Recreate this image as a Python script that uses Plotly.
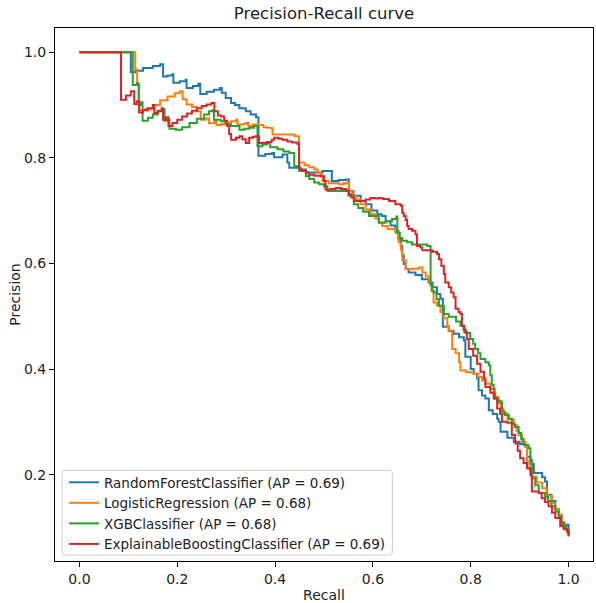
import plotly.graph_objects as go

# Precision-recall curves (recall ascending, precision held until the next recall value)
rf_recall = [0.0, 0.105, 0.115, 0.130, 0.150, 0.165, 0.171, 0.180, 0.190, 0.192, 0.205, 0.217, 0.219,
             0.232, 0.243, 0.247, 0.260, 0.275, 0.287, 0.291, 0.299, 0.310, 0.318, 0.327, 0.340, 0.350,
             0.361, 0.366, 0.380, 0.394, 0.398, 0.415, 0.425, 0.429, 0.452, 0.463, 0.480, 0.497, 0.502,
             0.516, 0.530, 0.544, 0.551, 0.560, 0.575, 0.585, 0.597, 0.609, 0.618, 0.626, 0.636, 0.646,
             0.652, 0.657, 0.660, 0.663, 0.667, 0.673, 0.687, 0.700, 0.714, 0.722, 0.731, 0.738, 0.743,
             0.755, 0.765, 0.776, 0.786, 0.789, 0.800, 0.806, 0.813, 0.816, 0.823, 0.830, 0.837, 0.845,
             0.854, 0.857, 0.861, 0.875, 0.888, 0.900, 0.912, 0.915, 0.922, 0.929, 0.946, 0.952, 0.956,
             0.965, 0.973, 0.980, 0.986, 1.0]
rf_precision = [1.0, 0.962, 0.965, 0.970, 0.974, 0.977, 0.954, 0.956, 0.958, 0.942, 0.945, 0.948, 0.932,
                0.936, 0.940, 0.921, 0.925, 0.929, 0.932, 0.923, 0.913, 0.904, 0.900, 0.894, 0.888, 0.882,
                0.877, 0.804, 0.807, 0.809, 0.801, 0.806, 0.791, 0.781, 0.778, 0.772, 0.772, 0.775, 0.775,
                0.756, 0.758, 0.759, 0.737, 0.728, 0.718, 0.712, 0.700, 0.693, 0.690, 0.680, 0.672, 0.662,
                0.645, 0.633, 0.615, 0.599, 0.590, 0.583, 0.578, 0.570, 0.564, 0.555, 0.542, 0.533, 0.480,
                0.472, 0.467, 0.460, 0.454, 0.423, 0.400, 0.391, 0.382, 0.360, 0.350, 0.344, 0.322, 0.315,
                0.306, 0.300, 0.281, 0.270, 0.262, 0.258, 0.253, 0.234, 0.220, 0.203, 0.195, 0.187, 0.162,
                0.150, 0.135, 0.124, 0.105, 0.085]

lr_recall = [0.0, 0.114, 0.118, 0.122, 0.135, 0.150, 0.165, 0.180, 0.195, 0.205, 0.211, 0.219, 0.230,
             0.240, 0.248, 0.258, 0.262, 0.265, 0.276, 0.280, 0.290, 0.299, 0.310, 0.320, 0.323, 0.335,
             0.340, 0.345, 0.354, 0.365, 0.376, 0.384, 0.394, 0.395, 0.429, 0.440, 0.449, 0.460, 0.470,
             0.480, 0.487, 0.493, 0.497, 0.510, 0.531, 0.540, 0.548, 0.551, 0.558, 0.565, 0.575, 0.585,
             0.595, 0.605, 0.612, 0.619, 0.630, 0.646, 0.653, 0.657, 0.660, 0.667, 0.680, 0.694, 0.701,
             0.708, 0.714, 0.718, 0.720, 0.724, 0.731, 0.738, 0.745, 0.752, 0.755, 0.762, 0.769, 0.776,
             0.779, 0.790, 0.806, 0.815, 0.823, 0.830, 0.840, 0.850, 0.857, 0.862, 0.867, 0.875, 0.888,
             0.894, 0.898, 0.905, 0.912, 0.915, 0.920, 0.925, 0.935, 0.946, 0.955, 0.966, 0.973, 0.980,
             0.986, 0.992, 0.997, 1.0]
lr_precision = [1.0, 0.967, 0.938, 0.890, 0.893, 0.900, 0.909, 0.916, 0.922, 0.926, 0.911, 0.901, 0.896,
                0.888, 0.872, 0.874, 0.875, 0.866, 0.869, 0.862, 0.864, 0.866, 0.869, 0.872, 0.863, 0.864,
                0.866, 0.860, 0.863, 0.862, 0.858, 0.857, 0.853, 0.844, 0.844, 0.841, 0.791, 0.786, 0.782,
                0.778, 0.772, 0.768, 0.756, 0.752, 0.750, 0.752, 0.754, 0.737, 0.729, 0.721, 0.712, 0.702,
                0.693, 0.685, 0.678, 0.671, 0.665, 0.658, 0.640, 0.625, 0.606, 0.589, 0.590, 0.592, 0.583,
                0.575, 0.566, 0.558, 0.548, 0.526, 0.520, 0.508, 0.496, 0.482, 0.473, 0.438, 0.430, 0.413,
                0.397, 0.394, 0.391, 0.385, 0.378, 0.372, 0.362, 0.347, 0.335, 0.325, 0.316, 0.305, 0.294,
                0.282, 0.275, 0.262, 0.253, 0.225, 0.210, 0.196, 0.185, 0.174, 0.160, 0.146, 0.135, 0.124,
                0.110, 0.100, 0.092, 0.086]

xgb_recall = [0.0, 0.109, 0.118, 0.121, 0.126, 0.129, 0.140, 0.150, 0.160, 0.170, 0.174, 0.180, 0.184,
              0.197, 0.210, 0.225, 0.240, 0.255, 0.265, 0.272, 0.275, 0.289, 0.299, 0.310, 0.327, 0.337,
              0.347, 0.357, 0.364, 0.374, 0.384, 0.390, 0.405, 0.417, 0.429, 0.439, 0.450, 0.463, 0.470,
              0.480, 0.490, 0.500, 0.507, 0.525, 0.544, 0.550, 0.561, 0.570, 0.580, 0.592, 0.612, 0.626,
              0.639, 0.648, 0.650, 0.655, 0.660, 0.670, 0.680, 0.695, 0.711, 0.718, 0.721, 0.724, 0.730,
              0.735, 0.745, 0.755, 0.762, 0.770, 0.779, 0.785, 0.790, 0.799, 0.805, 0.809, 0.815, 0.820,
              0.830, 0.837, 0.840, 0.843, 0.847, 0.850, 0.855, 0.861, 0.864, 0.870, 0.878, 0.884, 0.890,
              0.898, 0.903, 0.908, 0.918, 0.922, 0.925, 0.932, 0.939, 0.952, 0.958, 0.965, 0.973, 0.980,
              0.985, 0.990, 0.995, 1.0]
xgb_precision = [1.0, 0.938, 0.941, 0.900, 0.905, 0.870, 0.876, 0.882, 0.888, 0.892, 0.870, 0.872, 0.855,
                 0.853, 0.858, 0.866, 0.874, 0.882, 0.888, 0.890, 0.872, 0.869, 0.863, 0.860, 0.853, 0.855,
                 0.857, 0.860, 0.822, 0.825, 0.828, 0.820, 0.816, 0.812, 0.809, 0.784, 0.775, 0.765, 0.760,
                 0.753, 0.750, 0.746, 0.737, 0.737, 0.737, 0.728, 0.712, 0.705, 0.698, 0.690, 0.677, 0.680,
                 0.684, 0.689, 0.658, 0.648, 0.643, 0.640, 0.636, 0.636, 0.633, 0.560, 0.548, 0.545, 0.532,
                 0.520, 0.504, 0.499, 0.499, 0.490, 0.482, 0.475, 0.468, 0.457, 0.448, 0.438, 0.430, 0.419,
                 0.413, 0.407, 0.388, 0.370, 0.353, 0.344, 0.340, 0.338, 0.319, 0.313, 0.306, 0.297, 0.290,
                 0.279, 0.268, 0.256, 0.250, 0.228, 0.193, 0.180, 0.165, 0.158, 0.150, 0.140, 0.130, 0.120,
                 0.110, 0.102, 0.095, 0.086]

ebm_recall = [0.0, 0.085, 0.095, 0.105, 0.112, 0.117, 0.122, 0.130, 0.140, 0.150, 0.153, 0.160, 0.168,
              0.171, 0.177, 0.182, 0.190, 0.200, 0.210, 0.220, 0.230, 0.240, 0.250, 0.260, 0.270, 0.276,
              0.283, 0.290, 0.296, 0.302, 0.306, 0.310, 0.320, 0.327, 0.333, 0.340, 0.347, 0.355, 0.361,
              0.367, 0.383, 0.393, 0.398, 0.407, 0.415, 0.425, 0.435, 0.446, 0.449, 0.455, 0.463, 0.469,
              0.480, 0.493, 0.500, 0.503, 0.514, 0.524, 0.535, 0.545, 0.551, 0.556, 0.561, 0.570, 0.578,
              0.585, 0.595, 0.605, 0.612, 0.620, 0.633, 0.646, 0.657, 0.660, 0.663, 0.667, 0.670, 0.673,
              0.680, 0.687, 0.690, 0.697, 0.701, 0.721, 0.731, 0.735, 0.740, 0.745, 0.748, 0.755, 0.760,
              0.765, 0.769, 0.775, 0.779, 0.782, 0.787, 0.792, 0.796, 0.805, 0.813, 0.820, 0.827, 0.830,
              0.840, 0.847, 0.854, 0.860, 0.864, 0.875, 0.884, 0.891, 0.896, 0.901, 0.908, 0.915, 0.922,
              0.925, 0.939, 0.945, 0.952, 0.959, 0.966, 0.973, 0.983, 0.990, 0.997, 1.0]
ebm_precision = [1.0, 0.910, 0.918, 0.926, 0.902, 0.907, 0.886, 0.890, 0.894, 0.900, 0.885, 0.889, 0.894,
                 0.872, 0.877, 0.860, 0.866, 0.872, 0.878, 0.884, 0.889, 0.894, 0.898, 0.901, 0.904, 0.888,
                 0.880, 0.878, 0.870, 0.860, 0.845, 0.834, 0.838, 0.841, 0.835, 0.828, 0.838, 0.840, 0.841,
                 0.828, 0.830, 0.834, 0.838, 0.836, 0.834, 0.831, 0.829, 0.826, 0.778, 0.776, 0.772, 0.768,
                 0.766, 0.765, 0.756, 0.740, 0.741, 0.743, 0.741, 0.738, 0.731, 0.725, 0.718, 0.718, 0.718,
                 0.721, 0.724, 0.723, 0.724, 0.722, 0.718, 0.712, 0.709, 0.696, 0.690, 0.682, 0.671, 0.665,
                 0.662, 0.655, 0.633, 0.630, 0.625, 0.622, 0.618, 0.608, 0.595, 0.580, 0.564, 0.555, 0.545,
                 0.536, 0.514, 0.508, 0.504, 0.482, 0.470, 0.457, 0.438, 0.425, 0.410, 0.395, 0.382, 0.366,
                 0.355, 0.344, 0.325, 0.315, 0.300, 0.298, 0.275, 0.259, 0.245, 0.231, 0.222, 0.212, 0.199,
                 0.168, 0.165, 0.155, 0.148, 0.140, 0.128, 0.118, 0.102, 0.097, 0.092, 0.083]

series = [
    ("RandomForestClassifier (AP = 0.69)", rf_recall, rf_precision, "#1f77b4"),
    ("LogisticRegression (AP = 0.68)", lr_recall, lr_precision, "#ff7f0e"),
    ("XGBClassifier (AP = 0.68)", xgb_recall, xgb_precision, "#2ca02c"),
    ("ExplainableBoostingClassifier (AP = 0.69)", ebm_recall, ebm_precision, "#d62728"),
]

x_ticks = [0.0, 0.2, 0.4, 0.6, 0.8, 1.0]
y_ticks = [0.2, 0.4, 0.6, 0.8, 1.0]

FONT = "DejaVu Sans"
TEXT = "#222222"

fig = go.Figure()
for name, rec, prec, color in series:
    fig.add_trace(go.Scatter(
        x=rec, y=prec, mode="lines", name=name,
        line=dict(color=color, width=2, shape="hv"),
    ))

axis_style = dict(
    showgrid=False, zeroline=False, showline=True, mirror=True,
    linecolor="black", linewidth=1, ticks="outside", ticklen=5,
    tickwidth=1, tickcolor="black", tickformat=".1f",
    tickfont=dict(family=FONT, size=14, color=TEXT),
)

# rounded, semi-transparent legend frame (paper coordinates)
lx0, lx1, ly0, ly1 = 0.0130, 0.6271, 0.0112, 0.1701
rx, ry = 0.0056, 0.0056
frame_path = (
    f"M {lx0 + rx},{ly0} L {lx1 - rx},{ly0} Q {lx1},{ly0} {lx1},{ly0 + ry} "
    f"L {lx1},{ly1 - ry} Q {lx1},{ly1} {lx1 - rx},{ly1} "
    f"L {lx0 + rx},{ly1} Q {lx0},{ly1} {lx0},{ly1 - ry} "
    f"L {lx0},{ly0 + ry} Q {lx0},{ly0} {lx0 + rx},{ly0} Z"
)

fig.update_layout(
    width=596, height=603,
    margin=dict(l=55, r=2, t=28, b=40),
    paper_bgcolor="white", plot_bgcolor="white",
    font=dict(family=FONT, size=14, color=TEXT),
    title=dict(text="Precision-Recall curve", x=0.5, xref="paper",
               y=1 - 13 / 603, yref="container", yanchor="middle",
               font=dict(family=FONT, size=16.5, color=TEXT)),
    xaxis=dict(range=[-0.05, 1.05], tickvals=x_ticks,
               title=dict(text="Recall", standoff=4,
                          font=dict(family=FONT, size=14, color=TEXT)),
               **axis_style),
    yaxis=dict(range=[0.0364, 1.0458], tickvals=y_ticks,
               title=dict(text="Precision", standoff=0,
                          font=dict(family=FONT, size=14, color=TEXT)),
               **axis_style),
    shapes=[dict(type="path", path=frame_path, xref="paper", yref="paper",
                 layer="above", fillcolor="rgba(255,255,255,0.8)",
                 line=dict(color="#cccccc", width=1))],
    legend=dict(x=0.0167, y=0.0019, xanchor="left", yanchor="bottom",
                bgcolor="rgba(0,0,0,0)", borderwidth=0,
                font=dict(family=FONT, size=13.5, color=TEXT),
                tracegroupgap=0),
    showlegend=True,
)

fig.write_html("out.html")
